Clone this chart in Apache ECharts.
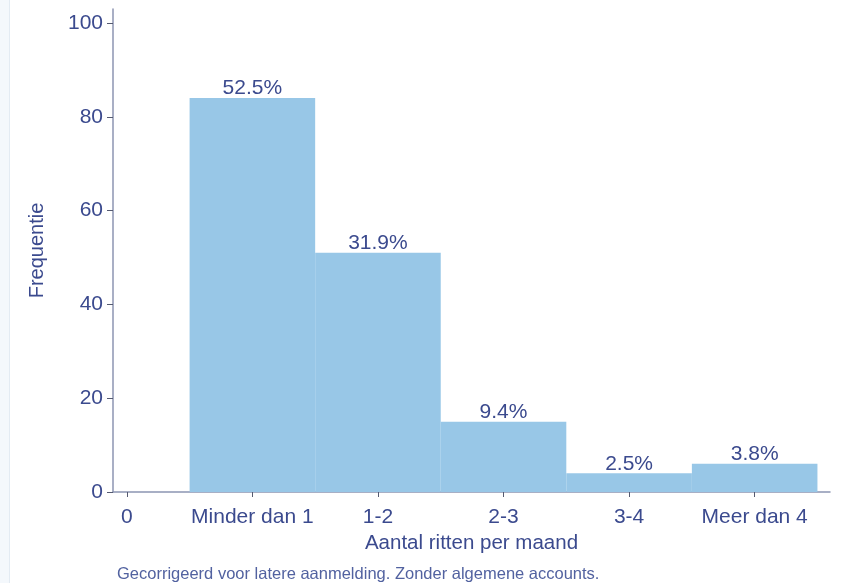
<!DOCTYPE html>
<html>
<head>
<meta charset="utf-8">
<script src="https://cdn.jsdelivr.net/npm/echarts@6/dist/echarts.min.js"></script>
<style>
html,body{margin:0;padding:0;background:#fff;}
#chart{width:843px;height:583px;}
</style>
</head>
<body>
<div id="chart"></div>
<script>
var categories = ['0', 'Minder dan 1', '1-2', '2-3', '3-4', 'Meer dan 4'];
var barPositions = [1, 2, 3, 4, 5];
var frequencies = [84, 51, 15, 4, 6];
var percentLabels = ['52.5%', '31.9%', '9.4%', '2.5%', '3.8%'];
var yTicks = [0, 20, 40, 60, 80, 100];
var xTicks = [0, 1, 2, 3, 4, 5];

var textColor = '#3b4a8e';
var axisColor = '#8c95b2';
var barColor = '#98c7e7';
var fontFam = 'Liberation Sans, Arial, sans-serif';

var data = barPositions.map(function (p, i) { return [p, frequencies[i], percentLabels[i]]; });

var chart = echarts.init(document.getElementById('chart'));
chart.setOption({
  animation: false,
  backgroundColor: '#ffffff',
  grid: { left: 113, right: 13, top: 9, bottom: 91 },
  xAxis: {
    type: 'value',
    min: -0.11,
    max: 5.6,
    splitLine: { show: false },
    axisLine: { show: true, onZero: false, lineStyle: { color: axisColor, width: 1.5 } },
    axisTick: { show: true, customValues: xTicks, length: 5, lineStyle: { color: '#555a70' } },
    axisLabel: {
      customValues: xTicks,
      formatter: function (v) { return categories[Math.round(v)]; },
      color: textColor, fontSize: 21, fontFamily: fontFam, margin: 15
    },
    name: 'Aantal ritten per maand',
    nameLocation: 'middle',
    nameGap: 38,
    nameTextStyle: { color: textColor, fontSize: 20.5, fontFamily: fontFam }
  },
  yAxis: {
    type: 'value',
    min: 0,
    max: 103,
    splitLine: { show: false },
    axisLine: { show: true, onZero: false, lineStyle: { color: axisColor, width: 1.5 } },
    axisTick: { show: true, customValues: yTicks, length: 6, lineStyle: { color: '#555a70' } },
    axisLabel: {
      customValues: yTicks,
      color: textColor, fontSize: 21, fontFamily: fontFam, margin: 10
    },
    name: 'Frequentie',
    nameLocation: 'middle',
    nameGap: 66,
    nameRotate: 90,
    nameTextStyle: { color: textColor, fontSize: 20, fontFamily: fontFam }
  },
  series: [{
    type: 'custom',
    data: data,
    encode: { x: 0, y: 1 },
    renderItem: function (params, api) {
      var x = api.value(0), y = api.value(1);
      var p0 = api.coord([x - 0.5, 0]);
      var p1 = api.coord([x + 0.5, y]);
      return {
        type: 'group',
        children: [{
          type: 'rect',
          shape: { x: p0[0], y: p1[1], width: p1[0] - p0[0], height: p0[1] - p1[1] },
          style: { fill: barColor }
        }, {
          type: 'text',
          style: {
            text: api.value(2),
            x: (p0[0] + p1[0]) / 2,
            y: p1[1] + 1,
            textAlign: 'center',
            textVerticalAlign: 'bottom',
            fill: textColor,
            fontSize: 21,
            fontFamily: fontFam
          }
        }]
      };
    }
  }],
  graphic: [
    { type: 'rect', left: 0, top: 0, shape: { width: 9, height: 583 }, style: { fill: '#f4f8fc' } },
    { type: 'rect', left: 9, top: 0, shape: { width: 1, height: 583 }, style: { fill: '#e3ebf3' } },
    {
      type: 'text', left: 117, top: 566,
      style: {
        text: 'Gecorrigeerd voor latere aanmelding. Zonder algemene accounts.',
        fill: '#5262a0', fontSize: 16.5, fontFamily: fontFam
      }
    }
  ]
});
</script>
</body>
</html>
